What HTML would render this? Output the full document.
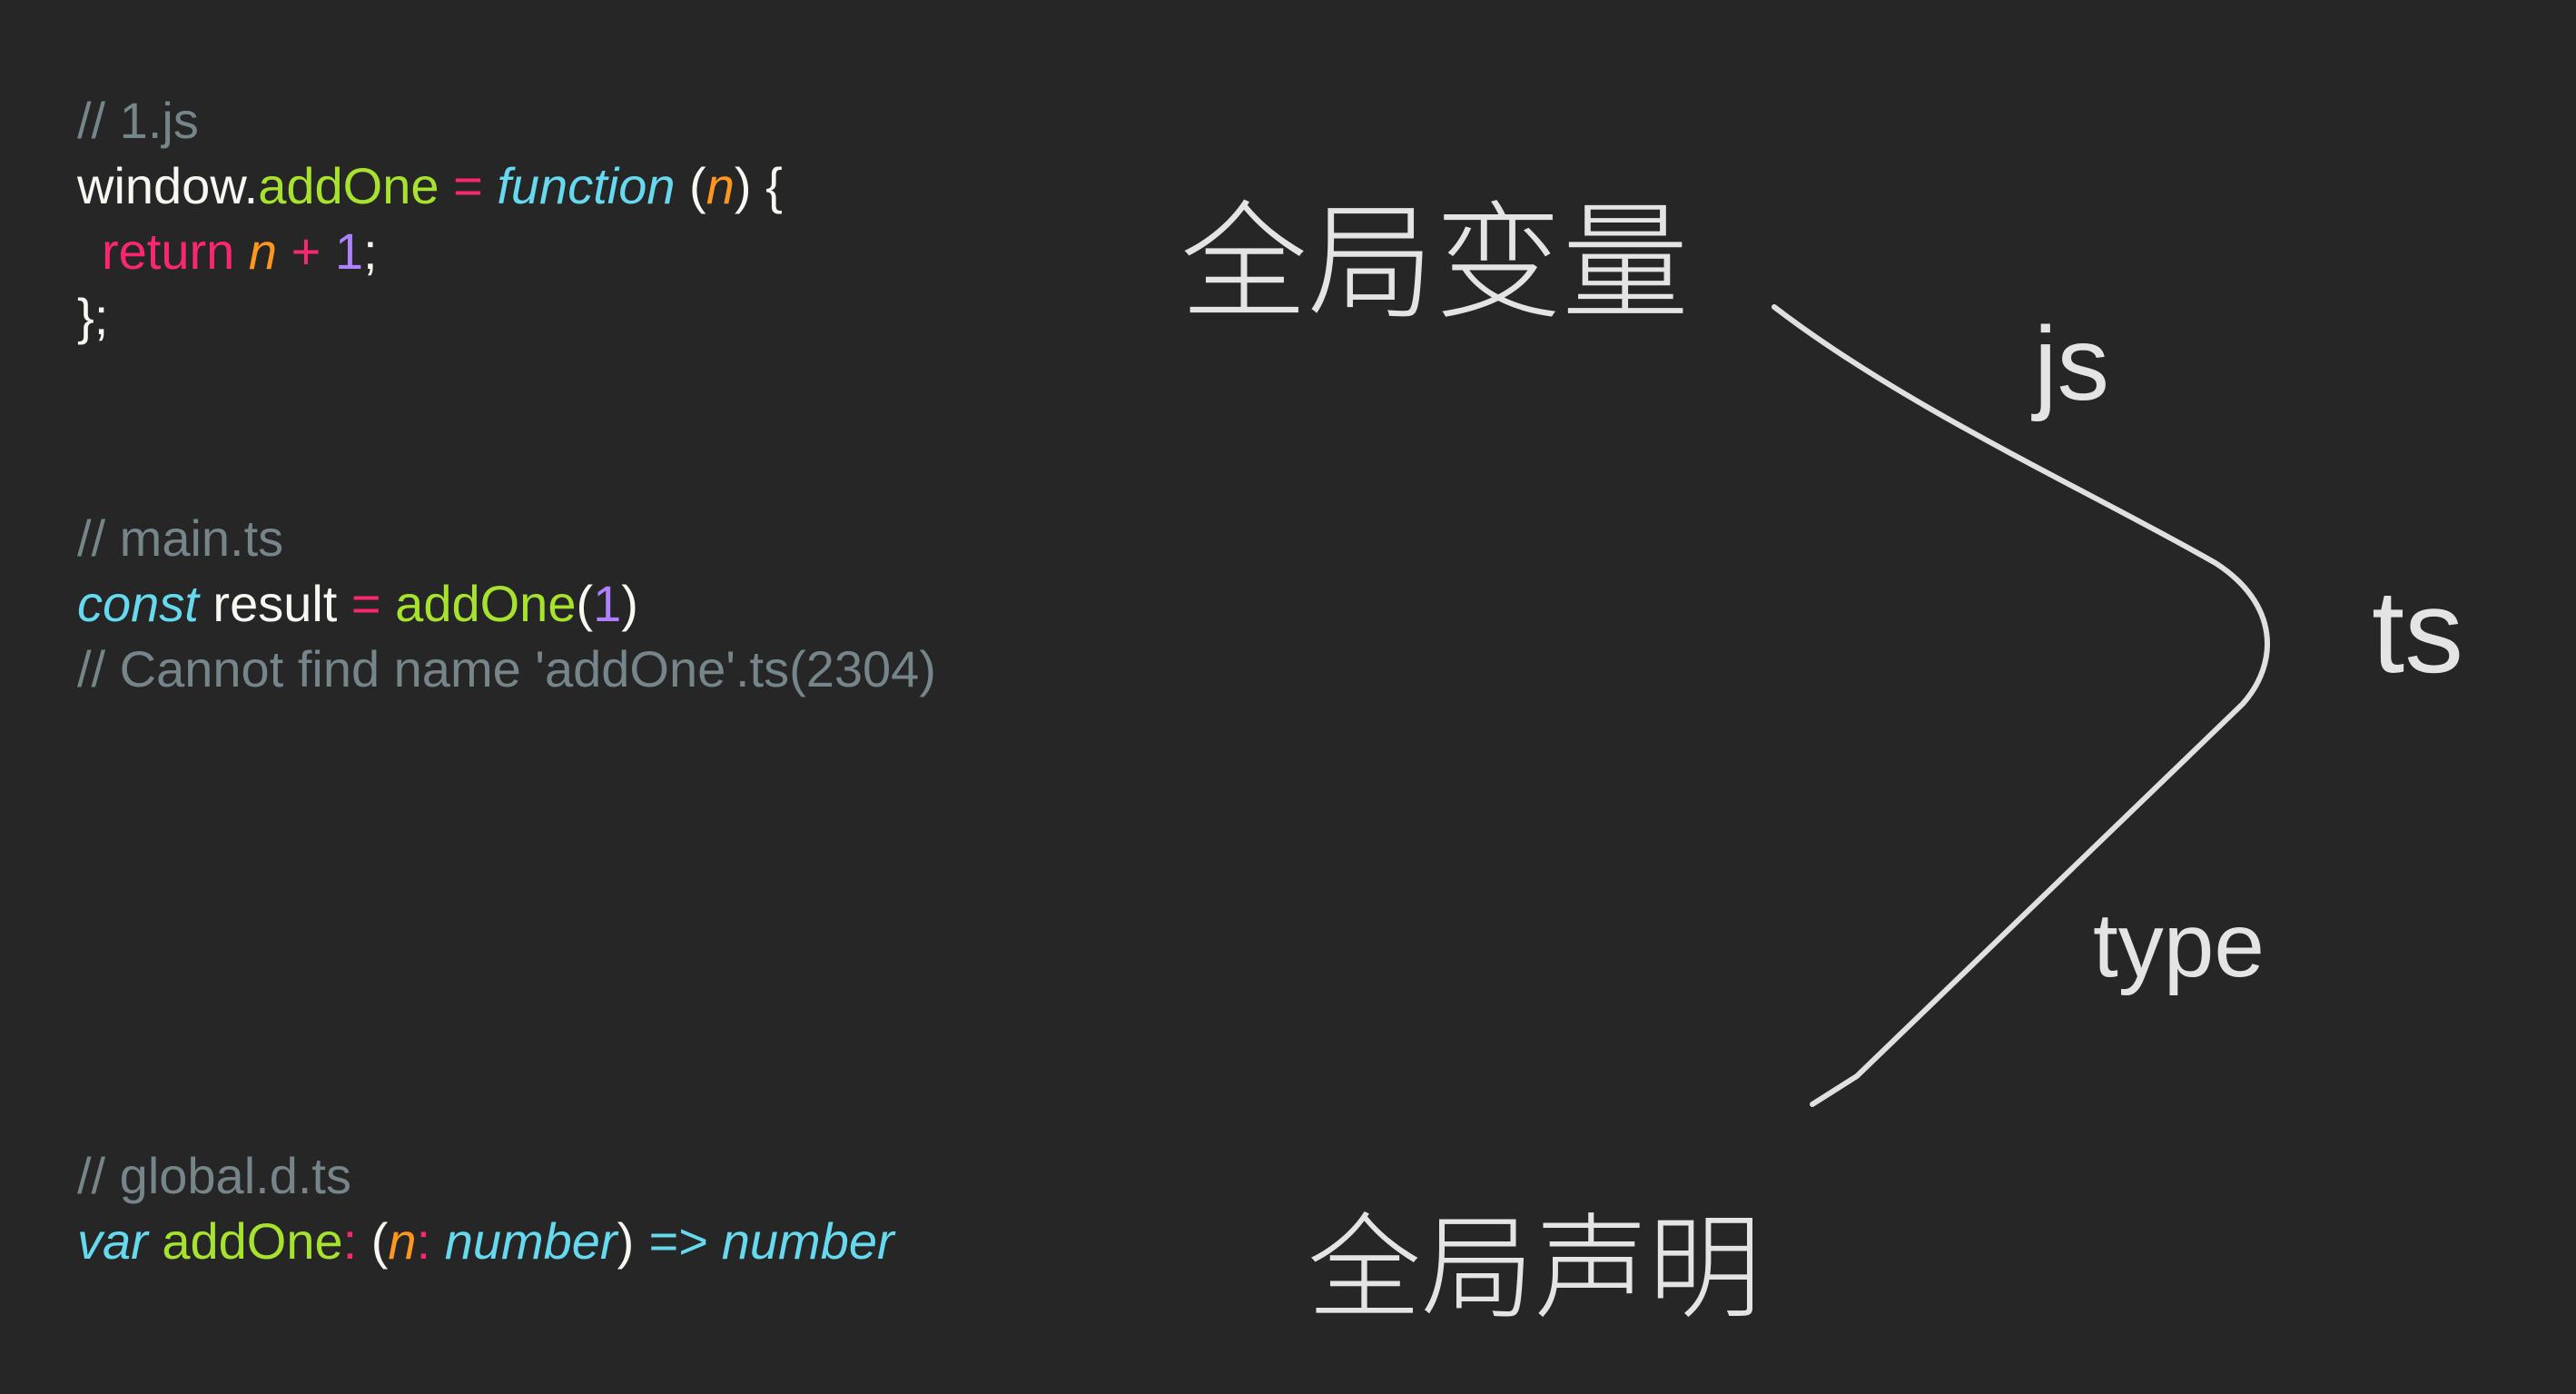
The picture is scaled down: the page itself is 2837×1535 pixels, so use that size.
<!DOCTYPE html>
<html><head><meta charset="utf-8"><style>
html,body{margin:0;padding:0;background:#262626;}
body{width:2837px;height:1535px;position:relative;overflow:hidden;}
svg{position:absolute;left:0;top:0;}
</style></head><body>
<svg width="2837" height="1535" viewBox="0 0 2837 1535" xmlns="http://www.w3.org/2000/svg">
<g font-family="'Liberation Sans', sans-serif" font-size="56">
<text x="85" y="152" fill="#75858a">// 1.js</text>
<text x="85" y="224"><tspan fill="#f8f8f2">window.</tspan><tspan fill="#a6e22e">addOne</tspan><tspan fill="#f92672"> = </tspan><tspan fill="#66d9ef" font-style="italic">function</tspan><tspan fill="#f8f8f2"> (</tspan><tspan fill="#fd971f" font-style="italic">n</tspan><tspan fill="#f8f8f2">) {</tspan></text>
<text x="112" y="296"><tspan fill="#f92672">return </tspan><tspan fill="#fd971f" font-style="italic">n</tspan><tspan fill="#f92672"> + </tspan><tspan fill="#ae81ff">1</tspan><tspan fill="#f8f8f2">;</tspan></text>
<text x="85" y="368" fill="#f8f8f2">};</text>

<text x="85" y="612" fill="#75858a">// main.ts</text>
<text x="85" y="684"><tspan fill="#66d9ef" font-style="italic">const</tspan><tspan fill="#f8f8f2"> result </tspan><tspan fill="#f92672">=</tspan><tspan fill="#a6e22e"> addOne</tspan><tspan fill="#f8f8f2">(</tspan><tspan fill="#ae81ff">1</tspan><tspan fill="#f8f8f2">)</tspan></text>
<text x="85" y="756" fill="#75858a">// Cannot find name 'addOne'.ts(2304)</text>

<text x="85" y="1314" fill="#75858a">// global.d.ts</text>
<text x="85" y="1386"><tspan fill="#66d9ef" font-style="italic">var</tspan><tspan fill="#a6e22e"> addOne</tspan><tspan fill="#f92672">: </tspan><tspan fill="#f8f8f2">(</tspan><tspan fill="#fd971f" font-style="italic">n</tspan><tspan fill="#f92672">: </tspan><tspan fill="#66d9ef" font-style="italic">number</tspan><tspan fill="#f8f8f2">) </tspan><tspan fill="#66d9ef" font-style="italic">=&gt; number</tspan></text>
</g>
<path d="M1954 338 C2100 450 2300 540 2440 620 C2510 665 2510 730 2470 775 L2045 1185 L1996 1216" fill="none" stroke="#e0e0e0" stroke-width="6" stroke-linecap="round" stroke-linejoin="round"/>
<g fill="#e4e4e4" font-family="'Liberation Sans','Noto Sans CJK SC',sans-serif">
<text x="1300" y="338" font-size="140" font-family="'Noto Sans CJK SC',sans-serif" font-weight="300">全局变量</text>
<text x="1440" y="1440" font-size="125" font-family="'Noto Sans CJK SC',sans-serif" font-weight="300">全局声明</text>
<text x="2240" y="440" font-size="115">js</text>
<text x="2612" y="740" font-size="130">ts</text>
<text x="2305" y="1075" font-size="100">type</text>
</g>
</svg>
</body></html>
